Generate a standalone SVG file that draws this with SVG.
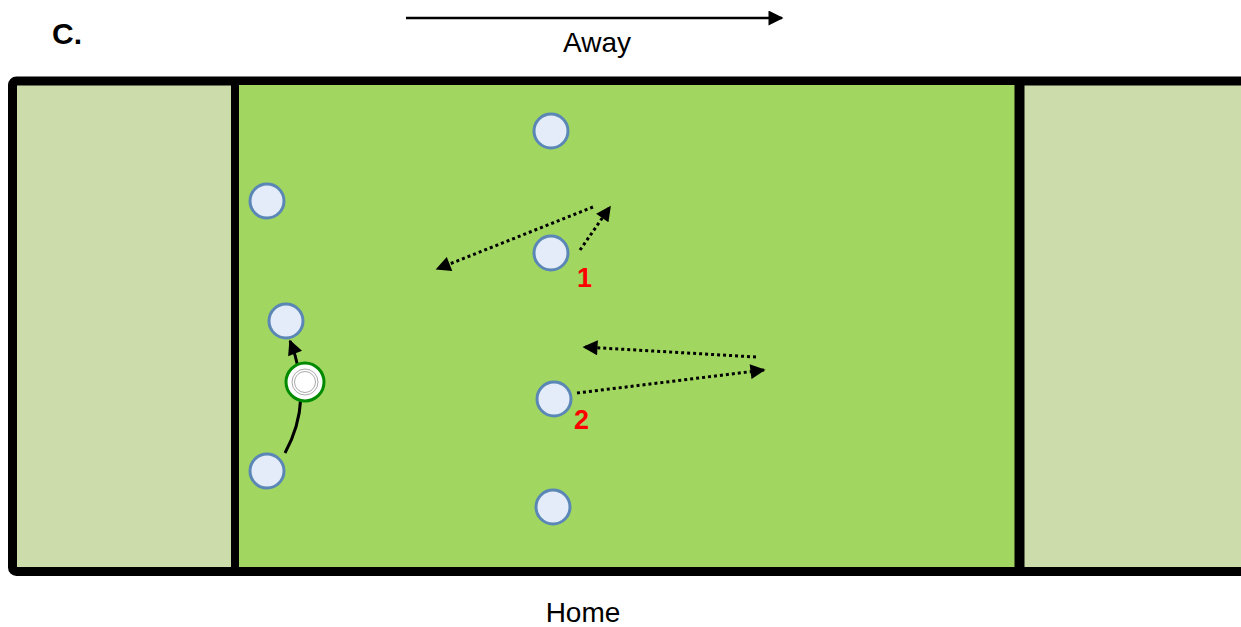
<svg xmlns="http://www.w3.org/2000/svg" width="1241" height="627" viewBox="0 0 1241 627">
<style>
.t{font-family:"Liberation Sans",Arial,sans-serif;fill:#000}
.p{fill:#e3ecf8;stroke:#5b87b6;stroke-width:3}
.d{fill:none;stroke:#000;stroke-width:3;stroke-dasharray:3 3}
.lbl{font-family:"Liberation Sans",Arial,sans-serif;font-weight:bold;fill:#f00;font-size:27px}
</style>
<defs>
<marker id="ah" viewBox="0 0 10 10" refX="9" refY="5" markerWidth="6.5" markerHeight="6" markerUnits="strokeWidth" orient="auto"><path d="M0,0 L10,5 L0,10 z" fill="#000"/></marker>
<marker id="ah2" viewBox="0 0 10 10" refX="9" refY="5" markerWidth="5.5" markerHeight="5" markerUnits="strokeWidth" orient="auto"><path d="M0,0 L10,5 L0,10 z" fill="#000"/></marker>
</defs>
<g id="field">
<rect x="12.5" y="81" width="1240" height="490.5" rx="4" fill="#ccdcab" stroke="#000" stroke-width="9"/>
<rect x="235" y="85" width="784" height="482" fill="#a1d661"/>
<line x1="235" y1="77" x2="235" y2="576" stroke="#000" stroke-width="8"/>
<line x1="1019.5" y1="77" x2="1019.5" y2="576" stroke="#000" stroke-width="10"/>
</g>
<g id="title"><text class="t" x="52" y="44" font-size="30" font-weight="bold">C.</text></g>
<g id="away"><text class="t" x="597" y="52" font-size="28" text-anchor="middle">Away</text></g>
<g id="home"><text class="t" x="583" y="622" font-size="28" text-anchor="middle">Home</text></g>
<g id="connectors">
<line x1="406" y1="18" x2="782" y2="18" stroke="#000" stroke-width="2.5" marker-end="url(#ah)"/>
<path d="M285,453 Q314,400 290,341" fill="none" stroke="#000" stroke-width="3" marker-end="url(#ah2)"/>
<line class="d" x1="593" y1="207" x2="437" y2="269" marker-end="url(#ah2)"/>
<line class="d" x1="580" y1="250" x2="610" y2="207" marker-end="url(#ah2)"/>
<line class="d" x1="756" y1="357" x2="584" y2="347" marker-end="url(#ah2)"/>
<line class="d" x1="577" y1="393" x2="764" y2="370" marker-end="url(#ah2)"/>
</g>
<g id="p1"><circle class="p" cx="551" cy="131" r="17"/></g>
<g id="p2"><circle class="p" cx="267" cy="201" r="17"/></g>
<g id="p3"><circle class="p" cx="551" cy="253" r="17"/></g>
<g id="p4"><circle class="p" cx="286" cy="321" r="17"/></g>
<g id="p5"><circle class="p" cx="267" cy="471" r="17"/></g>
<g id="p6"><circle class="p" cx="554" cy="399" r="17"/></g>
<g id="p7"><circle class="p" cx="553" cy="507" r="17"/></g>
<g id="ball">
<circle cx="305" cy="382" r="19" fill="#fff" stroke="#008a00" stroke-width="3"/>
<circle cx="305" cy="382" r="13" fill="none" stroke="#aaa" stroke-width="1"/>
<circle cx="305" cy="382" r="10.5" fill="none" stroke="#aaa" stroke-width="1"/>
</g>
<g id="label1"><text class="lbl" x="577" y="287">1</text></g>
<g id="label2"><text class="lbl" x="574" y="429">2</text></g>
</svg>
